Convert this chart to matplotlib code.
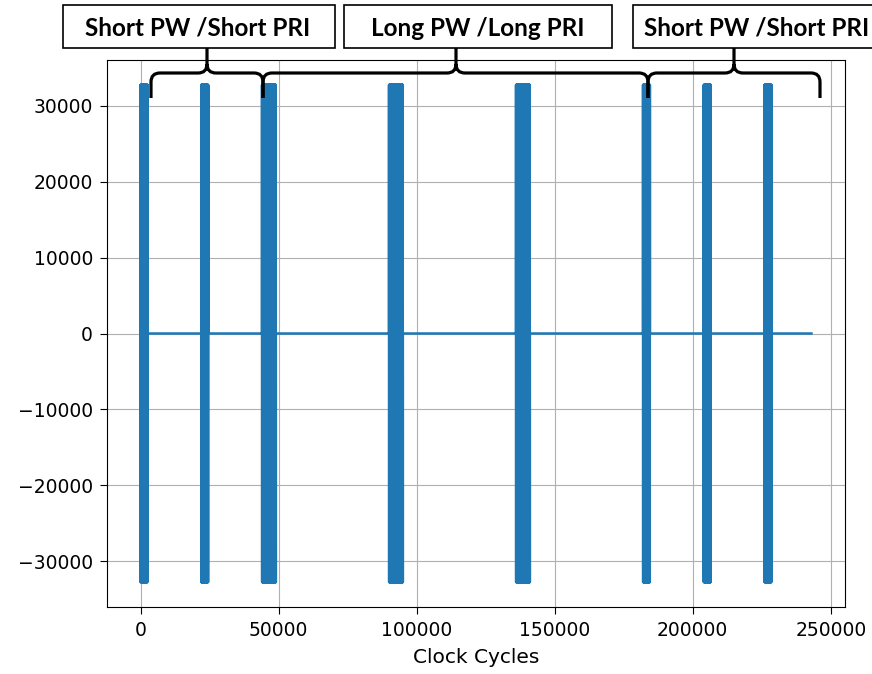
import numpy as np
import matplotlib
matplotlib.use("Agg")
import matplotlib.pyplot as plt
from matplotlib.path import Path
from matplotlib.patches import PathPatch, Rectangle

# ---- data ----
pulse_starts = [0, 22000, 44000, 90000, 136000, 182000, 204000, 226000]
pulse_widths = [2500, 2500, 5000, 5000, 5000, 2500, 2500, 2500]
amplitude = 32767
signal_end = 243000
sample_step = 40

group_labels = ["Short PW /Short PRI", "Long PW /Long PRI", "Short PW /Short PRI"]

# build the line: zero baseline, carrier swinging between +/- amplitude inside each pulse
xs, ys = [], []
for s, w in zip(pulse_starts, pulse_widths):
    xs.append(s); ys.append(0)
    n = int(w // sample_step)
    for k in range(n + 1):
        xs.append(s + k * sample_step)
        ys.append(amplitude if k % 2 == 0 else -amplitude)
    xs.append(s + w); ys.append(0)
xs.append(signal_end); ys.append(0)

W, H = 872, 674
fig = plt.figure(figsize=(W / 100, H / 100), dpi=100)
ax = fig.add_axes([107 / W, 1 - 607 / H, (845 - 107) / W, (607 - 60) / H])
ax.plot(xs, ys, color="#1f77b4", linewidth=1.8)
ax.grid(True)
ax.tick_params(labelsize=13.5, length=5, pad=5)
ax.set_xlabel("Clock Cycles", fontsize=14.5, labelpad=6)
ax.set_xticks([0, 50000, 100000, 150000, 200000, 250000])

# ---- overlay: boxes and braces (figure pixel coords, y from top) ----
def fx(x):
    return x / W

def fy(y):
    return 1 - y / H

boxes = [(63, 335), (344, 612), (633, 900)]
text_centers = [198, 478, 757]
for (x0, x1), cx, lab in zip(boxes, text_centers, group_labels):
    fig.patches.append(Rectangle((fx(x0), fy(48)), (x1 - x0) / W, 43 / H,
                                 transform=fig.transFigure, facecolor="white",
                                 edgecolor="black", linewidth=1.2, zorder=5))
    fig.text(fx(cx), fy(26), lab, ha="center", va="center_baseline", fontsize=17.5,
             fontweight="bold", family=["Lato", "DejaVu Sans"], zorder=6)

def brace(x0, xm, x1, yh=73, yend=98, ytip=48, r=9):
    P = [
        (x0, yend), (x0, yh + r), (x0, yh), (x0 + r, yh),
        (xm - r, yh), (xm, yh), (xm, yh - r), (xm, ytip),
        (xm, yh - r), (xm, yh), (xm + r, yh),
        (x1 - r, yh), (x1, yh), (x1, yh + r), (x1, yend),
    ]
    C = [Path.MOVETO, Path.LINETO, Path.CURVE3, Path.CURVE3,
         Path.LINETO, Path.CURVE3, Path.CURVE3, Path.LINETO,
         Path.MOVETO, Path.CURVE3, Path.CURVE3,
         Path.LINETO, Path.CURVE3, Path.CURVE3, Path.LINETO]
    verts = [(fx(a), fy(b)) for a, b in P]
    fig.patches.append(PathPatch(Path(verts, C), transform=fig.transFigure,
                                 facecolor="none", edgecolor="black",
                                 linewidth=2.3, zorder=7))

brace(151, 207, 263)
brace(263, 456, 648)
brace(648, 734, 820)

fig.savefig("out.png", dpi=100)
